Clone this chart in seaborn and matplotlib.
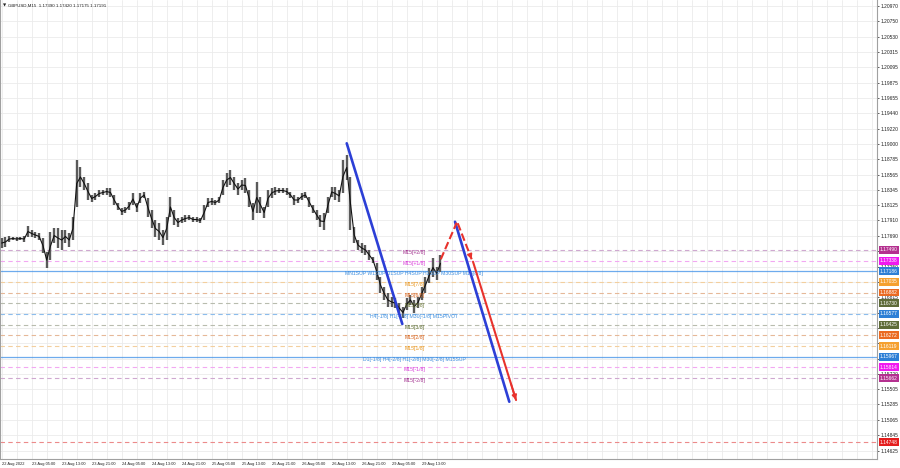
import numpy as np
import pandas as pd
import matplotlib
matplotlib.use("Agg")
import matplotlib.pyplot as plt
import matplotlib.transforms as mtransforms
import seaborn as sns

# ---------------- data ----------------
symbol_header = "GBPUSD,M15  1.17390 1.17420 1.17175 1.17191"

# hourly (4 x M15 bars) highs / lows
high = [1.17660, 1.17674, 1.17688, 1.17674, 1.17674, 1.17674, 1.17688, 1.17831, 1.17774, 1.17745,
        1.17731, 1.17660, 1.17460, 1.17745, 1.17802, 1.17802, 1.17774, 1.17774, 1.17731, 1.17959,
        1.18773, 1.18673, 1.18530, 1.18445, 1.18273, 1.18302, 1.18345, 1.18345, 1.18373, 1.18373,
        1.18273, 1.18159, 1.18088, 1.18102, 1.18174, 1.18302, 1.18159, 1.18302, 1.18316, 1.18231,
        1.18059, 1.17916, 1.17874, 1.17774, 1.17959, 1.18245, 1.18059, 1.17945, 1.17959, 1.17988,
        1.17988, 1.17959, 1.17959, 1.17945, 1.18131, 1.18231, 1.18231, 1.18202, 1.18245, 1.18487,
        1.18587, 1.18630, 1.18530, 1.18445, 1.18487, 1.18516, 1.18345, 1.18159, 1.18459, 1.18245,
        1.18102, 1.18345, 1.18373, 1.18388, 1.18373, 1.18373, 1.18373, 1.18316, 1.18273, 1.18245,
        1.18302, 1.18316, 1.18245, 1.18131, 1.18059, 1.17988, 1.18017, 1.18245, 1.18388, 1.18388,
        1.18345, 1.18773, 1.18844, 1.18530, 1.17817, 1.17631, 1.17589, 1.17560, 1.17489, 1.17389,
        1.17303, 1.17103, 1.16961, 1.16875, 1.16818, 1.16804, 1.16732, 1.16675, 1.16804, 1.16847,
        1.16775, 1.16818, 1.16961, 1.17103, 1.17232, 1.17374, 1.17246, 1.17420]
low = [1.17517, 1.17532, 1.17603, 1.17631, 1.17617, 1.17631, 1.17603, 1.17674, 1.17674, 1.17660,
       1.17631, 1.17446, 1.17232, 1.17346, 1.17589, 1.17517, 1.17489, 1.17589, 1.17532, 1.17631,
       1.18102, 1.18388, 1.18345, 1.18202, 1.18174, 1.18202, 1.18245, 1.18273, 1.18273, 1.18245,
       1.18131, 1.18059, 1.17988, 1.18017, 1.18059, 1.18131, 1.18031, 1.18159, 1.18231, 1.17959,
       1.17802, 1.17674, 1.17631, 1.17560, 1.17631, 1.17959, 1.17845, 1.17817, 1.17874, 1.17888,
       1.17916, 1.17888, 1.17888, 1.17874, 1.17916, 1.18102, 1.18131, 1.18131, 1.18159, 1.18273,
       1.18388, 1.18416, 1.18345, 1.18273, 1.18345, 1.18302, 1.18102, 1.17916, 1.18017, 1.18017,
       1.17945, 1.18102, 1.18231, 1.18273, 1.18302, 1.18302, 1.18273, 1.18231, 1.18131, 1.18159,
       1.18202, 1.18231, 1.18102, 1.18017, 1.17916, 1.17817, 1.17774, 1.18017, 1.18245, 1.18202,
       1.18174, 1.18302, 1.18487, 1.17774, 1.17589, 1.17489, 1.17446, 1.17417, 1.17346, 1.17303,
       1.17061, 1.16875, 1.16775, 1.16675, 1.16675, 1.16661, 1.16590, 1.16518, 1.16632, 1.16704,
       1.16590, 1.16661, 1.16775, 1.16875, 1.17018, 1.17103, 1.17061, 1.17175]

time_labels = ["22 Aug 2022", "23 Aug 05:00", "23 Aug 13:00", "23 Aug 21:00", "24 Aug 05:00",
               "24 Aug 13:00", "24 Aug 21:00", "25 Aug 05:00", "25 Aug 13:00", "25 Aug 21:00",
               "26 Aug 05:00", "26 Aug 13:00", "26 Aug 21:00", "29 Aug 05:00", "29 Aug 13:00"]

price_ticks = [1.20970, 1.20750, 1.20530, 1.20315, 1.20095, 1.19875, 1.19655, 1.19440, 1.19220,
               1.19000, 1.18785, 1.18565, 1.18345, 1.18125, 1.17910, 1.17690, 1.17470, 1.17250,
               1.17035, 1.16815, 1.16595, 1.16380, 1.16160, 1.15940, 1.15720, 1.15505, 1.15285,
               1.15065, 1.14845, 1.14625]

level_prices = [1.17490, 1.17338, 1.17186, 1.17035, 1.16882, 1.16730, 1.16577,
                1.16425, 1.16272, 1.16119, 1.15967, 1.15814, 1.15662]
level_texts = ["M15[+2/8]", "M15[+1/8]",
               "MN1SUP W1SUP D1SUP H4SUP H1SUP M30SUP M15[8/8]",
               "M15[7/8]", "M15[6/8]", "M15[5/8]",
               "H4[-1/8] H1[-1/8] M30[-1/8] M15PIVOT",
               "M15[3/8]", "M15[2/8]", "M15[1/8]",
               "D1[-1/8] H4[-2/8] H1[-2/8] M30[-2/8] M15SUP",
               "M15[-1/8]", "M15[-2/8]"]
level_text_colors = ["#a3308f", "#d83ed8", "#3f8fdf", "#e8961e", "#d8641e", "#6e7a3a", "#3f8fdf",
                     "#5f6e30", "#d8641e", "#e8961e", "#3f8fdf", "#d83ed8", "#a3308f"]
level_box_colors = ["#b4308f", "#f018f0", "#2d7fd6", "#f5a030", "#ea6a22", "#5e6b38", "#2d7fd6",
                    "#5e6b38", "#ea6a22", "#f5a030", "#2d7fd6", "#f018f0", "#b4308f"]
level_line_colors = ["#cfa8d0", "#f2a8f2", "#3d8fe8", "#f3cf9e", "#e6b898", "#b8bcae", "#8cbcec",
                     "#b8bcae", "#e6b898", "#f3cf9e", "#3d8fe8", "#f2a8f2", "#cfa8d0"]
level_line_solid = [False, False, True, False, False, False, False,
                    False, False, False, True, False, False]

extra_level_price = 1.14748

# trend objects: bar index (M15) and price
blue1_x, blue1_p = [368.0, 427.3], [1.19011, 1.16433]
blue2_x, blue2_p = [483.5, 541.4], [1.17892, 1.15324]
red_up_x, red_up_p = [468.3, 485.3], [1.17356, 1.17878]
red_dn_x, red_dn_p = [486.4, 501.3], [1.17870, 1.17356]
red_main_x, red_main_p = [502.7, 548.6], [1.17322, 1.15348]

# ---------------- figure ----------------
sns.set_theme(style="white")
plt.rcParams["font.family"] = ["Liberation Sans", "DejaVu Sans"]

W, H = 900, 468
fig = plt.figure(figsize=(W / 100, H / 100), dpi=100)
fig.patch.set_facecolor("white")
ax = fig.add_axes([0.0, 1 - 459 / H, 877 / W, 459 / H])
ax.set_facecolor("white")

bars_per_label = 32
bars_per_col = 4
ax.set_xlim(-1.81, 933.6)
ax.set_ylim(1.14507, 1.210556)

# grid
for gx in np.arange(0, 934, bars_per_label // 2):
    ax.axvline(gx, color="#ebebeb", lw=0.6, zorder=0)
for gy in price_ticks:
    ax.axhline(gy, color="#ebebeb", lw=0.6, zorder=0)

# level lines
for p, c, solid in zip(level_prices, level_line_colors, level_line_solid):
    if solid:
        ax.axhline(p, color=c, lw=0.9, alpha=0.75, zorder=1)
    else:
        ax.axhline(p, color=c, lw=0.8, ls=(0, (4, 3)), zorder=1)
ax.axhline(extra_level_price, color="#ec8a8a", lw=0.8, ls=(0, (4, 3)), zorder=1)

# price columns
xs = np.arange(len(high)) * bars_per_col
ax.vlines(xs, low, high, color="#5a5a5a", lw=1.7, zorder=3)
df = pd.DataFrame({"x": xs, "mid": (np.array(high) + np.array(low)) / 2})
sns.lineplot(data=df, x="x", y="mid", ax=ax, color="#111111", lw=0.8, zorder=4)

# level annotations
text_x = 440
off = mtransforms.offset_copy(ax.transData, fig=fig, x=0, y=-2.6, units="dots")
for p, t, c in zip(level_prices, level_texts, level_text_colors):
    ax.text(text_x, p, t, color=c, fontsize=3.7, ha="center", va="center",
            transform=off, zorder=5)

# trend lines
for xx, pp, col, ls, lw in [(blue1_x, blue1_p, "#2c3fd6", "-", 1.9),
                            (blue2_x, blue2_p, "#2c3fd6", "-", 1.9),
                            (red_up_x, red_up_p, "#e8322c", "--", 1.5),
                            (red_dn_x, red_dn_p, "#e8322c", "--", 1.5),
                            (red_main_x, red_main_p, "#e8322c", "-", 1.5)]:
    d = pd.DataFrame({"x": xx, "p": pp})
    sns.lineplot(data=d, x="x", y="p", ax=ax, color=col, lw=lw, linestyle=ls, zorder=6)

for xx, pp in [(red_dn_x, red_dn_p), (red_main_x, red_main_p)]:
    sx = xx[1] - (xx[1] - xx[0]) * 0.12
    sp = pp[1] - (pp[1] - pp[0]) * 0.12
    ax.annotate("", xy=(xx[1], pp[1]), xytext=(sx, sp),
                arrowprops=dict(arrowstyle="-|>", color="#e8322c", lw=1.2,
                                mutation_scale=7, shrinkA=0, shrinkB=0), zorder=7)

# axes styling
ax.set_xlabel("")
ax.set_ylabel("")
ax.yaxis.tick_right()
ax.set_yticks(price_ticks)
# labels hidden behind the coloured level boxes are left blank
px_per_price = 459 / (1.210556 - 1.14507)
all_boxes = level_prices + [extra_level_price]
tick_texts = []
for v in price_ticks:
    near = min(abs(v - b) for b in all_boxes) * px_per_price
    tick_texts.append("" if near < 3.5 else f"{v:.5f}")
ax.set_yticklabels(tick_texts, fontsize=3.5, color="#202020")
ax.set_xticks(np.arange(len(time_labels)) * bars_per_label)
ax.set_xticklabels(time_labels, fontsize=2.9, color="#202020", ha="left")
ax.tick_params(axis="y", length=1.5, width=0.5, pad=1.2, colors="#202020", direction="out")
ax.tick_params(axis="x", length=1.5, width=0.5, pad=0.8, colors="#202020", direction="out")
ax.spines["top"].set_visible(False)
for side in ["left", "right", "bottom"]:
    ax.spines[side].set_color("#a0a0a0")
    ax.spines[side].set_linewidth(0.8)

# colored level boxes on price scale
ytr = ax.get_yaxis_transform()
for p, bc in zip(all_boxes, level_box_colors + ["#e41e1e"]):
    ax.text(1.0035, p, f"{p:.5f}", transform=ytr, fontsize=3.5, color="white",
            ha="left", va="center", clip_on=False, zorder=10,
            bbox=dict(boxstyle="square,pad=0.3", fc=bc, ec="none"))

# header
ax.text(0.003, 0.988, "▼", transform=ax.transAxes, fontsize=3.0, color="#202020",
        ha="left", va="center", family="DejaVu Sans")
ax.text(0.009, 0.988, symbol_header, transform=ax.transAxes, fontsize=3.2, color="#202020",
        ha="left", va="center")

fig.savefig("out.png", dpi=100, facecolor="white")
